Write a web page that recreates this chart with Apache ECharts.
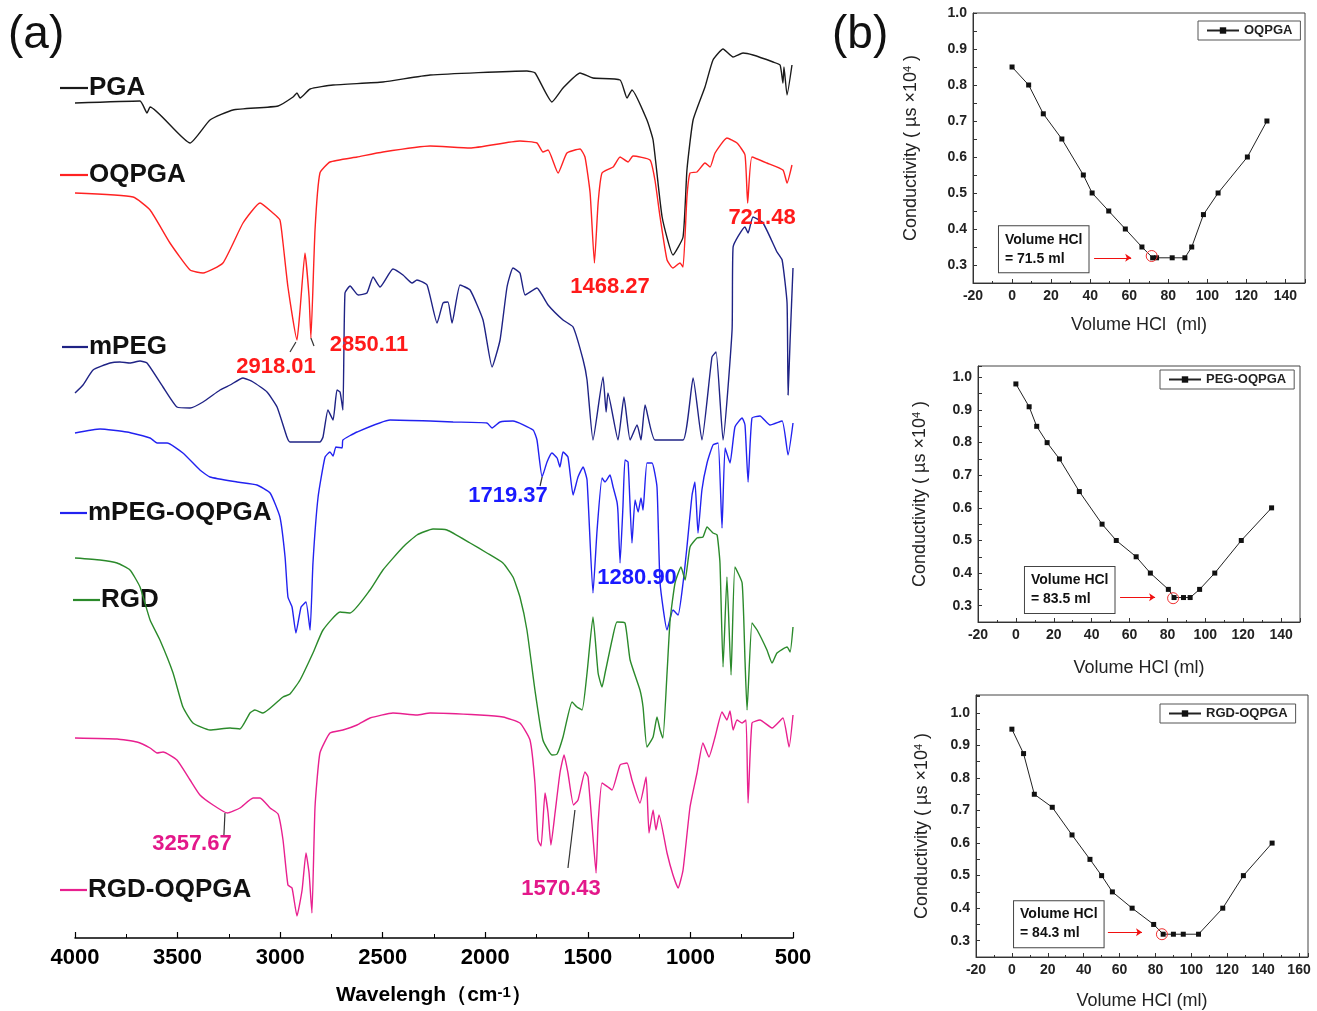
<!DOCTYPE html>
<html>
<head>
<meta charset="UTF-8">
<title>FTIR spectra and conductometric titration</title>
<script src="https://cdn.jsdelivr.net/npm/echarts@6/dist/echarts.min.js"></script>
<style>
html, body { margin: 0; padding: 0; background: #fff; }
#main { width: 1317px; height: 1011px; }
</style>
</head>
<body>
<div id="main"></div>
<script>
var FONT = '"Liberation Sans", Arial, sans-serif';

// (a) FTIR: wavenumber (cm-1) and offset transmittance (a.u.)
var pgaWn = [4000,3683,3649,3634,3439,3342,3230,3010,2937,2918,2903,2854,2742,2499,2269,1797,1757,1675,1621,1538,1475,1343,1309,1285,1212,1182,1138,1085,1036,1017,987,929,890,841,792,744,695,597,563,549,544,529,505];
var pgaT = [83.5,83.7,82.5,83.1,79.5,81.8,82.8,83.2,84.1,84.5,84.0,84.9,85.3,85.6,86.3,86.7,86.5,83.6,85.0,86.5,86.0,85.8,84.0,84.8,81.8,79.8,72.1,68.3,70.1,76.8,81.8,85.1,87.8,88.9,88.1,88.5,88.3,87.6,87.3,85.5,87.1,84.3,87.3];

var oqpgaWn = [4000,3717,3634,3537,3439,3376,3279,3181,3098,3035,3001,2986,2962,2918,2903,2879,2859,2850,2830,2806,2757,2625,2499,2269,2074,1831,1748,1719,1694,1645,1602,1538,1514,1489,1468,1450,1431,1377,1343,1304,1280,1197,1173,1148,1114,1085,1051,1036,1017,1002,968,929,904,880,822,773,734,721,700,627,549,529,505];
var oqpgaT = [74.5,74.1,72.8,69.5,66.8,66.5,67.5,71.5,73.5,72.5,71.8,69.5,65.1,59.8,62.8,68.5,64.1,60.0,70.8,76.5,77.6,78.1,78.6,79.2,79.0,79.7,79.5,78.6,78.8,76.5,78.5,78.9,78.1,74.5,67.5,73.5,76.5,77.1,78.1,77.6,78.2,77.8,75.8,72.1,67.8,67.0,67.5,67.1,74.1,76.5,76.6,77.5,77.1,78.5,80.0,79.5,78.3,73.5,78.1,77.5,76.8,75.5,77.3];

var mpegWn = [4000,3961,3912,3829,3781,3732,3683,3649,3571,3503,3439,3376,3293,3244,3181,3132,3064,3015,2967,2952,2806,2791,2767,2742,2723,2708,2694,2684,2659,2620,2577,2547,2513,2450,2401,2357,2333,2284,2235,2206,2182,2162,2123,2074,2011,1967,1928,1894,1865,1831,1806,1748,1723,1694,1621,1572,1523,1504,1475,1426,1411,1402,1353,1324,1294,1260,1241,1221,1173,1036,987,944,895,875,841,797,792,734,719,695,646,578,553,529,524,514,500];
var mpegT = [54.5,55.3,56.8,57.5,57.6,57.5,57.7,57.5,55.1,53.1,53.0,53.6,54.8,55.3,56.0,55.6,54.6,53.1,50.1,49.6,49.6,50.1,52.8,51.8,54.8,54.6,52.8,64.5,65.2,64.3,64.5,66.1,65.1,66.9,66.3,65.5,65.8,65.3,61.5,63.5,63.6,61.5,65.3,64.8,61.8,57.1,59.8,65.1,67.0,66.5,64.3,65.0,64.3,63.3,61.8,61.1,57.8,55.8,49.8,56.1,52.6,54.5,49.8,54.1,49.8,51.3,49.8,53.3,49.8,49.8,56.0,49.8,58.1,58.6,49.8,60.8,69.1,71.1,70.5,72.1,71.5,68.6,67.8,63.5,54.3,59.8,67.0];

var mpegOqWn = [4000,3878,3747,3634,3600,3551,3474,3391,3342,3210,3113,3049,3001,2976,2962,2942,2923,2898,2874,2854,2840,2815,2781,2757,2742,2728,2698,2694,2625,2464,2269,2157,1992,1967,1928,1865,1767,1748,1723,1699,1675,1650,1636,1621,1597,1572,1548,1523,1504,1475,1455,1431,1416,1392,1377,1358,1353,1343,1329,1319,1304,1285,1270,1255,1241,1231,1212,1187,1163,1148,1114,1085,1060,1036,1017,992,978,963,944,919,890,865,846,831,807,783,748,734,719,700,661,612,553,524,500];
var mpegOqT = [50.5,50.9,50.6,50.0,49.5,49.5,48.5,46.8,46.1,45.6,45.3,44.5,42.1,38.1,34.1,33.1,30.5,33.1,33.6,30.8,37.5,44.1,48.1,48.6,48.2,49.1,49.0,49.8,50.6,51.8,51.7,51.6,51.5,51.0,51.6,51.7,50.8,49.8,46.1,47.6,48.5,48.0,47.1,48.6,48.1,44.3,46.1,47.1,45.8,34.5,40.8,46.0,45.6,46.3,45.1,43.6,42.5,37.5,43.1,47.8,47.6,39.5,43.8,42.6,44.0,42.8,47.5,47.5,45.1,35.5,30.8,32.8,32.3,35.5,39.1,44.3,45.6,40.5,44.8,47.5,49.3,49.5,41.0,49.0,47.5,51.1,52.0,51.3,45.6,52.0,52.2,51.3,51.7,48.3,51.5];

var rgdWn = [4000,3878,3795,3732,3683,3634,3586,3522,3474,3425,3342,3244,3196,3147,3123,3084,2986,2952,2903,2840,2791,2708,2659,2562,2499,2401,2333,2255,2187,2074,1992,1914,1865,1831,1797,1758,1719,1675,1650,1621,1577,1553,1528,1504,1475,1450,1431,1416,1382,1358,1319,1294,1246,1231,1212,1182,1163,1148,1134,1114,1099,1075,1046,1026,1002,968,939,919,890,870,856,841,822,802,783,748,734,724,700,675,627,602,578,529,514,500];
var rgdT = [38.0,37.8,37.5,36.8,35.1,31.8,29.8,26.5,23.1,21.5,20.8,21.0,20.9,22.5,22.8,22.5,24.1,24.4,25.8,28.5,30.8,32.6,32.5,34.8,36.8,39.1,40.3,40.9,40.8,39.5,38.5,37.5,36.1,34.1,30.8,24.8,19.8,18.3,18.4,20.1,23.6,23.1,22.8,26.5,32.1,26.5,25.1,26.5,29.8,31.6,31.5,27.8,24.8,23.1,19.1,20.1,22.1,20.8,20.0,26.5,31.8,35.5,37.1,35.8,39.1,40.0,40.1,41.1,40.5,40.3,37.5,27.1,36.1,26.3,37.1,35.5,27.8,22.8,31.5,30.8,28.8,27.5,28.5,29.1,28.6,31.1];

var rgdOqWn = [4000,3795,3698,3634,3600,3571,3503,3439,3391,3327,3258,3196,3132,3098,3049,3010,2986,2962,2942,2918,2893,2874,2859,2845,2830,2806,2757,2694,2625,2562,2450,2333,2269,2026,1914,1831,1782,1758,1743,1728,1709,1694,1680,1660,1636,1616,1597,1570,1548,1514,1499,1475,1460,1450,1431,1402,1382,1343,1309,1285,1246,1216,1202,1182,1168,1153,1114,1085,1060,1036,1002,968,939,910,880,846,822,807,792,773,748,729,719,700,661,602,549,519,500];
var rgdOqT = [20.0,19.9,19.6,19.0,18.5,18.6,17.8,15.8,14.3,13.3,12.5,13.0,14.0,14.0,13.0,12.4,9.8,5.3,5.0,2.2,4.8,8.5,6.5,2.5,13.1,18.5,20.5,20.8,21.3,22.0,22.5,22.3,22.5,22.3,22.1,21.5,19.8,15.5,9.8,9.2,14.5,12.5,9.3,12.5,16.5,18.3,16.5,13.3,13.8,16.6,16.1,10.1,6.5,11.5,15.5,15.1,14.8,17.3,17.5,15.8,13.5,16.1,10.5,12.8,10.8,12.3,8.5,6.3,5.0,6.8,13.1,16.5,19.5,18.1,20.1,22.6,21.8,22.7,20.8,21.8,21.5,21.8,13.5,21.5,21.8,21.0,22.0,19.1,22.3];

// (b) conductometric titration: volume HCl (ml) vs conductivity (us x10^4)
var oqpgaVol = [0,8.5,16,25.5,36.5,41,49.5,58,66.5,72,74,82,88.5,92,98,105.5,120.5,130.5];
var oqpgaCond = [0.85,0.80,0.72,0.65,0.55,0.50,0.45,0.40,0.35,0.32,0.32,0.32,0.32,0.35,0.44,0.50,0.60,0.70];
var pegVol = [0,7,11,16.5,23,33.5,45.5,53,63.5,71,80.5,83.5,88.5,92,97,105,119,135];
var pegCond = [0.98,0.91,0.85,0.80,0.75,0.65,0.55,0.50,0.45,0.40,0.35,0.325,0.325,0.325,0.35,0.40,0.50,0.60];
var rgdVol = [0,6.5,12.5,22.5,33.5,43.5,50,56,67,79,84.3,90,95.5,104,117.5,129,145];
var rgdCond = [0.95,0.875,0.75,0.71,0.625,0.55,0.50,0.45,0.40,0.35,0.32,0.32,0.32,0.32,0.40,0.50,0.60];

function zip(a, b) {
	return a.map(function (v, i) { return [v, b[i]]; });
}

function peak(txt, color, wn, v) {
	return {
		coord: [wn, v], symbol: 'circle', symbolSize: 1,
		itemStyle: { color: 'rgba(0,0,0,0)' },
		label: { show: true, position: 'inside', formatter: txt, color: color,
			fontSize: 22, fontWeight: 'bold', fontFamily: FONT }
	};
}

function leader(a, b) {
	return [{ coord: a }, { coord: b }];
}

// ftir curves get their own ids so they don't clash with the titration legends
function ftirSeries(id, color, wn, t, peaks, leaders) {
	var s = {
		name: 'ftir-' + id, type: 'line', xAxisIndex: 0, yAxisIndex: 0,
		showSymbol: false, symbol: 'none', silent: true,
		smooth: 0.15, color: color,
		lineStyle: { color: color, width: 1.4 },
		data: zip(wn, t)
	};
	if (peaks) s.markPoint = { silent: true, data: peaks };
	if (leaders) s.markLine = {
		silent: true, symbol: 'none', label: { show: false },
		lineStyle: { color: '#333', width: 1.2, type: 'solid' },
		data: leaders
	};
	return s;
}

var red = '#ff1a1a', blue = '#1a1aff', pink = '#e3188a';

// small titration panels
var panels = [
	{ name: 'OQPGA', vol: oqpgaVol, cond: oqpgaCond, grid: { left: 973, top: 13, width: 332, height: 270 },
	  xmax: 150, ymax: 1.0, yGap: 53, xGap: 33, xName: 'Volume HCl  (ml)', legend: { left: 1198, top: 21 },
	  note: '= 71.5 ml', box: [-6.7, 0.344], arrow: [[42, 0.32], [61, 0.32]], ring: [71.5, 0.325] },
	{ name: 'PEG-OQPGA', vol: pegVol, cond: pegCond, grid: { left: 978, top: 366, width: 322, height: 256 },
	  xmax: 150, ymax: 1.035, yGap: 49, xGap: 37, xName: 'Volume HCl (ml)', legend: { left: 1160, top: 370 },
	  note: '= 83.5 ml', box: [4.8, 0.348], arrow: [[55, 0.326], [73.5, 0.326]], ring: [83, 0.323] },
	{ name: 'RGD-OQPGA', vol: rgdVol, cond: rgdCond, grid: { left: 976, top: 695, width: 332, height: 263 },
	  xmax: 165, ymax: 1.055, yGap: 45, xGap: 35, xName: 'Volume HCl (ml)', legend: { left: 1160, top: 704 },
	  note: '= 84.3 ml', box: [1.2, 0.351], arrow: [[53.5, 0.326], [72.5, 0.326]], ring: [83.6, 0.32] }
];

var grids = [{ left: 75, top: 38, width: 718, height: 900 }];
var xAxes = [{
	gridIndex: 0, type: 'value', inverse: true, min: 500, max: 4000, interval: 500,
	axisLine: { lineStyle: { color: '#000', width: 1.5 } },
	axisTick: { inside: true, length: 6, lineStyle: { color: '#000', width: 1.2 } },
	minorTick: { show: true, splitNumber: 2, length: 4, lineStyle: { color: '#000' } },
	splitLine: { show: false },
	axisLabel: { fontSize: 22, fontWeight: 'bold', color: '#000', fontFamily: FONT, margin: 9,
		formatter: function (v) { return String(v); } },
	name: 'Wavelengh（cm{sup|-1}）', nameLocation: 'middle', nameGap: 47,
	nameTextStyle: { fontSize: 21, fontWeight: 'bold', color: '#000', fontFamily: FONT,
		rich: { sup: { fontSize: 15, fontWeight: 'bold', verticalAlign: 'top', fontFamily: FONT, color: '#000' } } }
}];
var yAxes = [{ gridIndex: 0, type: 'value', min: 0, max: 90, show: false }];
var legends = [];

var series = [
	ftirSeries('PGA', '#1a1a1a', pgaWn, pgaT),
	ftirSeries('OQPGA', '#ff2222', oqpgaWn, oqpgaT,
		[peak('2918.01', red, 3020, 57.1), peak('2850.11', red, 2567, 59.3),
		 peak('1468.27', red, 1392, 65.1), peak('721.48', red, 651, 72.0)],
		[leader([2923, 59.6], [2952, 58.6]), leader([2850, 60.0], [2835, 59.2])]),
	ftirSeries('mPEG', '#1f2385', mpegWn, mpegT),
	ftirSeries('mPEG-OQPGA', '#2222f0', mpegOqWn, mpegOqT,
		[peak('1719.37', blue, 1889, 44.2), peak('1280.90', blue, 1260, 36.0)],
		[leader([1723, 46.1], [1733, 45.2])]),
	ftirSeries('RGD', '#2b8a2b', rgdWn, rgdT),
	ftirSeries('RGD-OQPGA', '#e8208f', rgdOqWn, rgdOqT,
		[peak('3257.67', pink, 3430, 9.4), peak('1570.43', pink, 1631, 4.9)],
		[leader([3269, 12.5], [3274, 10.3]), leader([1563, 12.8], [1597, 7.0])])
];

panels.forEach(function (p, k) {
	var i = k + 1;
	var g = p.grid;
	g.show = true; g.borderColor = '#444'; g.borderWidth = 1;
	grids.push(g);
	xAxes.push({
		gridIndex: i, type: 'value', min: -20, max: p.xmax, interval: 20,
		axisLine: { onZero: false, lineStyle: { color: '#333', width: 1 } },
		axisTick: { inside: true, length: 4, lineStyle: { color: '#333' } },
		minorTick: { show: true, splitNumber: 2, length: 2, lineStyle: { color: '#333' } },
		splitLine: { show: false },
		axisLabel: { fontSize: 14, fontWeight: 'bold', color: '#222', fontFamily: FONT, margin: 6,
			formatter: function (v) { return Math.round(v) % 20 === 0 ? String(Math.round(v)) : ''; } },
		name: p.xName, nameLocation: 'middle', nameGap: p.xGap,
		nameTextStyle: { fontSize: 18, color: '#222', fontFamily: FONT }
	});
	yAxes.push({
		gridIndex: i, type: 'value', min: 0.25, max: p.ymax, interval: 0.05,
		axisLine: { onZero: false, lineStyle: { color: '#333', width: 1 } },
		axisTick: { inside: true, length: 4, lineStyle: { color: '#333' } },
		splitLine: { show: false },
		axisLabel: { fontSize: 14, fontWeight: 'bold', color: '#222', fontFamily: FONT, margin: 6,
			formatter: function (v) { var r = Math.round(v * 100); return r % 10 === 0 ? (r / 100).toFixed(1) : ''; } },
		name: 'Conductivity ( µs ×10{sup|4} )', nameLocation: 'middle', nameGap: p.yGap,
		nameTextStyle: { fontSize: 18, color: '#222', fontFamily: FONT,
			rich: { sup: { fontSize: 11, verticalAlign: 'top', color: '#222', fontFamily: FONT } } }
	});
	legends.push({
		data: [p.name], left: p.legend.left, top: p.legend.top, orient: 'horizontal',
		borderColor: '#555', borderWidth: 1, padding: [3, 8], itemWidth: 32, itemHeight: 8,
		textStyle: { fontSize: 13, fontWeight: 'bold', color: '#222', fontFamily: FONT }
	});
	series.push({
		name: p.name, type: 'line', xAxisIndex: i, yAxisIndex: i,
		symbol: 'rect', symbolSize: 5, color: '#111',
		lineStyle: { color: '#222', width: 1 }, itemStyle: { color: '#111' },
		data: zip(p.vol, p.cond),
		markPoint: {
			silent: true,
			data: [
				{ coord: p.box, symbol: 'circle', symbolSize: 1, itemStyle: { color: 'rgba(0,0,0,0)' },
				  label: { show: true, position: 'inside', align: 'left', verticalAlign: 'middle',
					formatter: 'Volume HCl\n' + p.note, fontSize: 14, fontWeight: 'bold', lineHeight: 19,
					color: '#111', fontFamily: FONT, backgroundColor: '#fff',
					borderColor: '#444', borderWidth: 1, padding: [4, 6, 4, 6] } },
				{ coord: p.ring, symbol: 'circle', symbolSize: 11,
				  itemStyle: { color: 'rgba(0,0,0,0)', borderColor: '#f03030', borderWidth: 1 },
				  label: { show: false } }
			]
		},
		markLine: {
			silent: true, symbol: ['none', 'arrow'], symbolSize: 6, label: { show: false },
			lineStyle: { color: '#f01010', width: 1, type: 'solid' },
			data: [[{ coord: p.arrow[0] }, { coord: p.arrow[1] }]]
		}
	});
});

// curve names of panel (a)
var curveTags = [
	{ text: 'PGA', color: '#1a1a1a', x0: 60, x1: 88, y: 88 },
	{ text: 'OQPGA', color: '#ff2222', x0: 60, x1: 88, y: 175 },
	{ text: 'mPEG', color: '#1f2385', x0: 62, x1: 88, y: 347 },
	{ text: 'mPEG-OQPGA', color: '#2222f0', x0: 60, x1: 87, y: 513 },
	{ text: 'RGD', color: '#2b8a2b', x0: 73, x1: 100, y: 600 },
	{ text: 'RGD-OQPGA', color: '#e8208f', x0: 60, x1: 87, y: 890 }
];
var graphics = [
	{ type: 'text', left: 8, top: 12, style: { text: '(a)', font: '46px ' + FONT, fill: '#111' } },
	{ type: 'text', left: 832, top: 12, style: { text: '(b)', font: '46px ' + FONT, fill: '#111' } }
];
curveTags.forEach(function (c) {
	graphics.push({ type: 'line', shape: { x1: c.x0, y1: c.y, x2: c.x1, y2: c.y },
		style: { stroke: c.color, lineWidth: 2.2 } });
	graphics.push({ type: 'text', x: c.x1 + 1, y: c.y,
		style: { text: c.text, font: 'bold 26px ' + FONT, fill: '#111', verticalAlign: 'middle' } });
});

var chart = echarts.init(document.getElementById('main'));
chart.setOption({
	animation: false,
	backgroundColor: '#fff',
	grid: grids,
	xAxis: xAxes,
	yAxis: yAxes,
	legend: legends,
	graphic: graphics,
	series: series
});
</script>
</body>
</html>
